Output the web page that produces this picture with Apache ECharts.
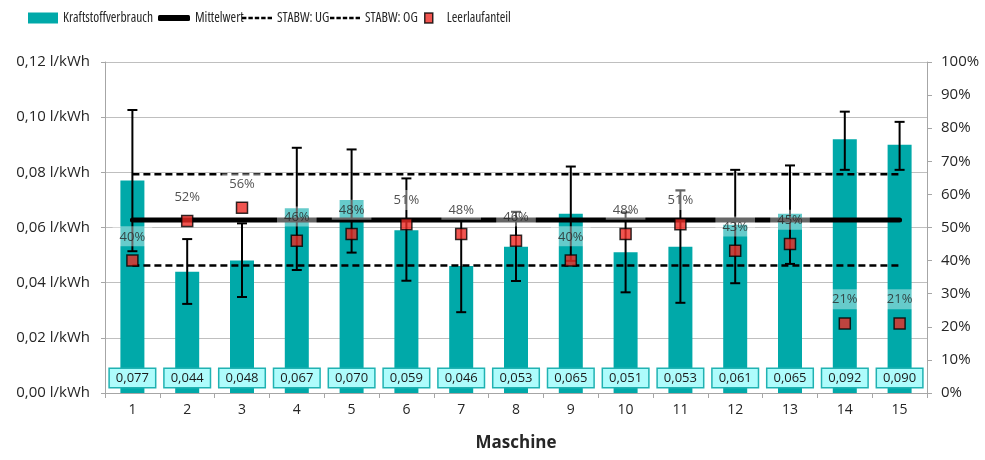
<!DOCTYPE html>
<html><head><meta charset="utf-8">
<script src="https://cdn.jsdelivr.net/npm/echarts@6/dist/echarts.min.js"></script>
<style>html,body{margin:0;padding:0;background:#fff}#c{width:985px;height:460px}</style>
</head><body><div id="c"></div>
<script>
var categories = ['1','2','3','4','5','6','7','8','9','10','11','12','13','14','15'];
var verbrauch = [0.077,0.044,0.048,0.067,0.070,0.059,0.046,0.053,0.065,0.051,0.053,0.061,0.065,0.092,0.090];
var errLow  = [0.0514,0.0323,0.0348,0.0446,0.0509,0.0407,0.0293,0.0406,0.0479,0.0365,0.0327,0.0398,0.0468,0.0809,0.0809];
var errHigh = [0.1026,0.0558,0.0615,0.0889,0.0883,0.0778,0.0627,0.0657,0.0821,0.0655,0.0734,0.0809,0.0825,0.1020,0.0983];
var leerlauf = [0.40,0.52,0.56,0.46,0.48,0.51,0.48,0.46,0.40,0.48,0.51,0.43,0.45,0.21,0.21];
var mittelwert = 0.0627;
var stabwUG = 0.0462;
var stabwOG = 0.0793;

var FONT = "'Open Sans',sans-serif";
var TEAL = '#00a9a9';
var TXT = '#262626';

function fill(v){ return categories.map(function(){ return v; }); }

var chart = echarts.init(document.getElementById('c'));
var legendText = { fontFamily: FONT, fontStyle: 'condensed', fontSize: 13.5, color: TXT };
var legendBase = { top: 11, padding: 0, itemHeight: 11, itemWidth: 30, itemGap: 0, textStyle: legendText };
function lg(data, left, extra){
  return Object.assign({}, legendBase, { data: data, left: left }, extra || {});
}
var dash = 'path://M0,0h4.4v2.5h-4.4zM6.4,0h4.4v2.5h-4.4zM12.8,0h4.4v2.5h-4.4zM19.2,0h4.4v2.5h-4.4zM25.6,0h4.4v2.5h-4.4z';
chart.setOption({
  animation: false,
  textStyle: { fontFamily: FONT },
  legend: [
    lg([{ name: 'Kraftstoffverbrauch', icon: 'rect' }], 28),
    lg([{ name: 'Mittelwert', icon: 'roundRect' }], 158, { itemHeight: 6, itemWidth: 32 }),
    lg([{ name: 'STABW: UG', icon: dash }], 242, { itemHeight: 3, itemWidth: 30 }),
    lg([{ name: 'STABW: OG', icon: dash }], 330, { itemHeight: 3, itemWidth: 30 }),
    lg([{ name: 'Leerlaufanteil', icon: 'rect' }], 424, { itemWidth: 8, itemHeight: 10,
      itemStyle: { borderColor: '#000', borderWidth: 1.5 },
      textStyle: Object.assign({}, legendText, { padding: [0, 0, 0, 9] }) })
  ],
  grid: { left: 105, right: 58, top: 62, bottom: 67 },
  xAxis: {
    type: 'category', data: categories,
    name: 'Maschine', nameLocation: 'middle', nameGap: 42,
    nameTextStyle: { fontFamily: FONT, fontSize: 17, fontWeight: 'bold', color: TXT },
    axisLine: { lineStyle: { color: '#a6a6a6', width: 1 } },
    axisTick: { show: true, length: 5, lineStyle: { color: '#a6a6a6' } },
    axisLabel: { color: TXT, fontSize: 14, margin: 10 }
  },
  yAxis: [{
    type: 'value', min: 0, max: 0.12, interval: 0.02,
    axisLine: { show: true, lineStyle: { color: '#a6a6a6' } },
    axisTick: { show: true, length: 4, lineStyle: { color: '#a6a6a6' } },
    splitLine: { lineStyle: { color: '#bfbfbf', width: 1 } },
    axisLabel: { color: TXT, fontSize: 15, margin: 15,
      formatter: function(v){ return v.toFixed(2).replace('.', ',') + ' l/kWh'; } }
  }, {
    type: 'value', min: 0, max: 1, interval: 0.1,
    axisLine: { show: true, lineStyle: { color: '#a6a6a6' } },
    axisTick: { show: true, length: 5, lineStyle: { color: '#a6a6a6' } },
    splitLine: { show: false },
    axisLabel: { color: TXT, fontSize: 15, margin: 14,
      formatter: function(v){ return Math.round(v * 100) + '%'; } }
  }],
  series: [{
    name: 'Kraftstoffverbrauch', type: 'bar', data: verbrauch, barWidth: 24, z: 2,
    itemStyle: { color: TEAL },
    label: { show: true, position: 'insideBottom', distance: 6, color: '#1a1a1a', fontSize: 13,
      backgroundColor: '#aefcfc', borderColor: '#20b2b2', borderWidth: 1.5, padding: [3, 6, 2, 6],
      formatter: function(p){ return p.value.toFixed(3).replace('.', ','); } }
  }, {
    name: 'Mittelwert', type: 'line', data: fill(mittelwert), symbol: 'none', z: 3,
    lineStyle: { color: '#000', width: 5, cap: 'round' }, itemStyle: { color: '#000' }
  }, {
    name: 'STABW: UG', type: 'line', data: fill(stabwUG), symbol: 'none', z: 3,
    lineStyle: { color: '#000', width: 2.5, type: [7, 4] }, itemStyle: { color: '#000' }
  }, {
    name: 'STABW: OG', type: 'line', data: fill(stabwOG), symbol: 'none', z: 3,
    lineStyle: { color: '#000', width: 2.5, type: [7, 4] }, itemStyle: { color: '#000' }
  }, {
    name: 'Fehler', type: 'custom', z: 4,
    data: categories.map(function(c, i){ return [i, errLow[i], errHigh[i]]; }),
    renderItem: function(params, api){
      var lo = api.coord([api.value(0), api.value(1)]);
      var hi = api.coord([api.value(0), api.value(2)]);
      var w = 5;
      var st = { stroke: '#000', lineWidth: 2 };
      return { type: 'group', children: [
        { type: 'line', shape: { x1: lo[0], y1: lo[1], x2: hi[0], y2: hi[1] }, style: st },
        { type: 'line', shape: { x1: lo[0]-w, y1: lo[1], x2: lo[0]+w, y2: lo[1] }, style: st },
        { type: 'line', shape: { x1: hi[0]-w, y1: hi[1], x2: hi[0]+w, y2: hi[1] }, style: st }
      ]};
    }
  }, {
    name: 'Leerlaufanteil', type: 'scatter', yAxisIndex: 1, data: leerlauf, z: 6,
    symbol: 'rect', symbolSize: 11,
    itemStyle: { color: '#ee2b24', borderColor: '#000', borderWidth: 1.5 },
    label: { show: true, position: 'top', distance: 8, color: TXT, fontSize: 13,
      backgroundColor: 'rgba(255,255,255,0.5)', padding: [4, 7, 3, 7],
      formatter: function(p){ return Math.round(p.value * 100) + '%'; } }
  }]
});
</script></body></html>
